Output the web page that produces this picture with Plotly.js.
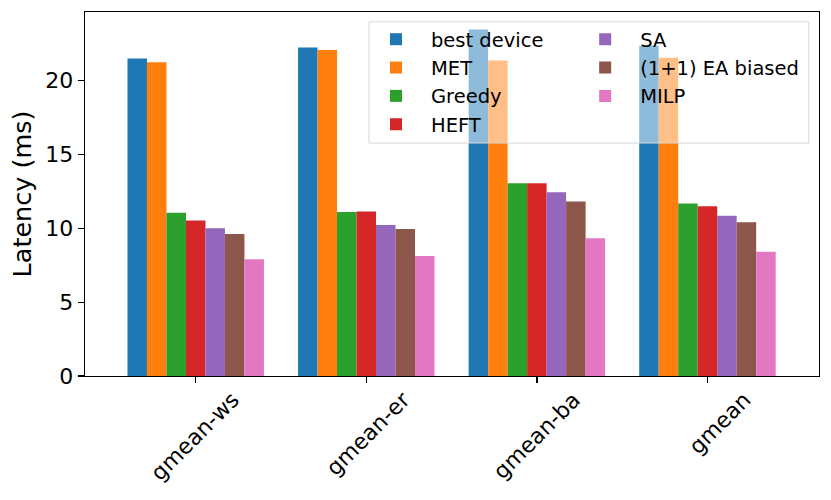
<!DOCTYPE html>
<html>
<head>
<meta charset="utf-8">
<script src="https://cdn.plot.ly/plotly-3.0.1.min.js"></script>
<style>
  html, body { margin: 0; padding: 0; background: #fff; }
  #chart { width: 831px; height: 500px; }
</style>
</head>
<body>
<div id="chart"></div>
<script>
/* Latency per scheduler, grouped by benchmark set */

const categories = ['gmean-ws', 'gmean-er', 'gmean-ba', 'gmean'];
const seriesNames = ['best device', 'MET', 'Greedy', 'HEFT', 'SA', '(1+1) EA biased', 'MILP'];

const bestDevice = [21.5, 22.24, 23.46, 22.37];
const met        = [21.25, 22.08, 21.36, 21.56];
const greedy     = [11.05, 11.1, 13.06, 11.68];
const heft       = [10.53, 11.14, 13.06, 11.5];
const sa         = [10.01, 10.22, 12.45, 10.85];
const eaBiased   = [9.61, 9.95, 11.82, 10.42];
const milp       = [7.9, 8.12, 9.32, 8.41];

const seriesValues = [bestDevice, met, greedy, heft, sa, eaBiased, milp];
const colors = ['#1f77b4', '#ff7f0e', '#2ca02c', '#d62728', '#9467bd', '#8c564b', '#e377c2'];

const FONT = 'DejaVu Sans, sans-serif';

// matplotlib legend fills column-first: first four in one legend, the rest in a second
const traces = seriesValues.map((vals, i) => ({
  type: 'bar',
  x: categories,
  y: vals,
  name: seriesNames[i],
  marker: { color: colors[i], line: { width: 0 } },
  legend: i < 4 ? 'legend' : 'legend2',
  legendgroup: 'g' + i,
  hoverinfo: 'skip',
}));

const legendCommon = {
  bgcolor: 'rgba(0,0,0,0)',
  borderwidth: 0,
  font: { family: FONT, size: 19.5, color: '#000' },
  itemwidth: 60,
  tracegroupgap: 0,
  xanchor: 'left',
  yanchor: 'top',
  y: 0.978,
};

const layout = {
  width: 831,
  height: 500,
  margin: { l: 85, r: 12, t: 12, b: 124 },
  paper_bgcolor: '#fff',
  plot_bgcolor: '#fff',
  font: { family: FONT, size: 20, color: '#000' },
  barmode: 'group',
  bargap: 0.2,
  bargroupgap: 0,
  showlegend: true,
  legend: Object.assign({ x: 0.376 }, legendCommon),
  legend2: Object.assign({ x: 0.661 }, legendCommon),
  xaxis: {
    type: 'category',
    range: [-0.649, 3.654],
    tickangle: -45,
    ticks: 'outside',
    ticklen: 6,
    tickwidth: 1.3,
    tickcolor: '#000',
    ticklabelshift: 37,
    ticklabelstandoff: -5,
    showline: true,
    linecolor: '#000',
    linewidth: 1.3,
    mirror: true,
    showgrid: false,
    tickfont: { family: FONT, size: 22, color: '#000' },
  },
  yaxis: {
    range: [0, 24.65],
    tickvals: [0, 5, 10, 15, 20],
    ticks: 'outside',
    ticklen: 6,
    tickwidth: 1.3,
    tickcolor: '#000',
    showline: true,
    linecolor: '#000',
    linewidth: 1.3,
    mirror: true,
    showgrid: false,
    zeroline: false,
    tickfont: { family: FONT, size: 22, color: '#000' },
    title: { text: 'Latency (ms)', font: { family: FONT, size: 25.5, color: '#000' }, standoff: 6 },
  },
  // legend frame, half transparent so the tall bars show through as in the reference
  shapes: [{
    type: 'rect',
    xref: 'paper', yref: 'paper',
    x0: 0.387, x1: 0.986, y0: 0.640, y1: 0.973,
    fillcolor: 'rgba(255,255,255,0.5)',
    line: { color: '#d8d8d8', width: 1 },
    layer: 'above',
  }],
};

Plotly.newPlot('chart', traces, layout, { displayModeBar: false, staticPlot: true });
</script>
</body>
</html>
